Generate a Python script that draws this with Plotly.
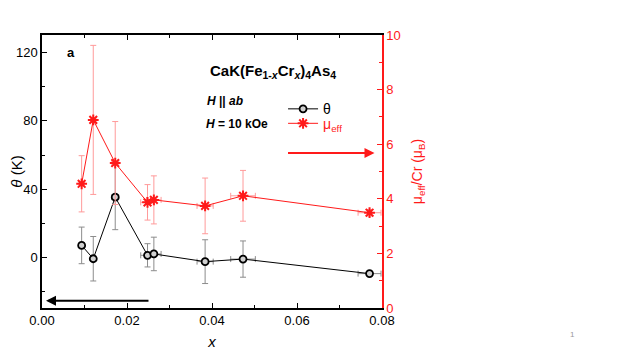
import plotly.graph_objects as go

# Data
x_vals = [0.00933, 0.01206, 0.01723, 0.02483, 0.02632, 0.03838, 0.0473, 0.07707]
x_err = [0.0006, 0.0006, 0.0008, 0.0016, 0.0017, 0.0019, 0.0029, 0.0027]
theta = [7.2, -0.6, 35.4, 1.4, 2.2, -2.3, -0.8, -9.3]
theta_err = [10.7, 13.0, 19.0, 6.8, 9.8, 12.8, 10.6, 0.8]
mu_eff = [4.55, 6.89, 5.31, 3.87, 3.96, 3.74, 4.11, 3.49]
mu_err = [1.03, 2.73, 1.52, 0.65, 0.88, 1.02, 0.93, 0.12]

FONT = "Arial, Liberation Sans, Helvetica, sans-serif"
RED = "#ff1a1a"

fig = go.Figure()

fig.add_trace(go.Scatter(
    x=x_vals, y=theta, name="θ", mode="lines+markers",
    line=dict(color="black", width=1),
    marker=dict(symbol="circle", size=7, color="#d0d0d0", line=dict(color="black", width=1.8)),
    error_y=dict(type="data", array=theta_err, color="#8c8c8c", thickness=1, width=3),
    error_x=dict(type="data", array=x_err, color="#8c8c8c", thickness=1, width=3),
    yaxis="y", legend="legend",
))

fig.add_trace(go.Scatter(
    x=x_vals, y=mu_eff, name="<span style='color:#ff1a1a'>μ<sub>eff</sub></span>", mode="lines+markers",
    line=dict(color=RED, width=1),
    marker=dict(symbol="asterisk-open", size=9, color=RED, line=dict(color=RED, width=2)),
    error_y=dict(type="data", array=mu_err, color="#ff9a9a", thickness=1, width=3),
    error_x=dict(type="data", array=x_err, color="#ff9a9a", thickness=1, width=3),
    yaxis="y2", legend="legend2",
))

leg_common = dict(xanchor="left", yanchor="middle", bgcolor="rgba(0,0,0,0)",
                  font=dict(size=14, family=FONT), itemwidth=30)

fig.update_layout(
    width=615, height=342,
    margin=dict(l=34, r=240.5, t=27, b=42, autoexpand=False),
    paper_bgcolor="white", plot_bgcolor="white",
    font=dict(family=FONT, size=12, color="black"),
    showlegend=True,
    legend=dict(x=0.709, y=0.728, **leg_common),
    legend2=dict(x=0.709, y=0.675, **leg_common),
    xaxis=dict(
        range=[0, 0.08], dtick=0.02, tick0=0, tickformat=".2f", automargin=False,
        showgrid=False, zeroline=False,
        showline=True, linecolor="black", linewidth=1.5, mirror="ticks",
        ticks="inside", ticklen=5, tickcolor="black", tickwidth=1,
        minor=dict(dtick=0.01, ticks="inside", ticklen=3, tickcolor="black"),
        title=dict(text="<i>x</i>", font=dict(size=15), standoff=10),
        tickfont=dict(size=13),
    ),
    yaxis=dict(
        range=[-29.4, 130.2], dtick=40, tick0=0, automargin=False,
        showgrid=False, zeroline=False,
        showline=True, linecolor="black", linewidth=1.5,
        ticks="inside", ticklen=5, tickcolor="black",
        minor=dict(dtick=20, ticks="inside", ticklen=3, tickcolor="black"),
        title=dict(text="<i>θ</i> (K)", font=dict(size=15), standoff=12),
        tickfont=dict(size=13),
    ),
    yaxis2=dict(
        range=[0, 10], dtick=2, tick0=0, overlaying="y", side="right", automargin=False,
        showgrid=False, zeroline=False,
        showline=True, linecolor=RED, linewidth=1.5,
        ticks="inside", ticklen=5, tickcolor=RED,
        minor=dict(dtick=1, ticks="inside", ticklen=3, tickcolor=RED),
        tickfont=dict(size=13, color=RED),
        title=dict(text="μ<sub>eff</sub>/Cr (μ<sub>B</sub>)", font=dict(size=14, color=RED), standoff=12),
    ),
)

annotations = [
    dict(x=0.085, y=0.935, xref="paper", yref="paper", text="<b>a</b>", showarrow=False,
         font=dict(size=13), xanchor="center", yanchor="middle"),
    dict(x=0.68, y=0.865, xref="paper", yref="paper",
         text="<b>CaK(Fe<sub>1-<i>x</i></sub>Cr<sub><i>x</i></sub>)<sub>4</sub>As<sub>4</sub></b>",
         showarrow=False, font=dict(size=15), xanchor="center", yanchor="middle"),
    dict(x=0.537, y=0.758, xref="paper", yref="paper", text="<b><i>H</i> || <i>ab</i></b>",
         showarrow=False, font=dict(size=12), xanchor="center", yanchor="middle"),
    dict(x=0.573, y=0.674, xref="paper", yref="paper", text="<b><i>H</i> = 10 kOe</b>",
         showarrow=False, font=dict(size=12), xanchor="center", yanchor="middle"),
    dict(x=0.00094, y=-25.1, xref="x", yref="y", ax=104, ay=0, text="",
         showarrow=True, arrowhead=2, arrowsize=1, arrowwidth=2, arrowcolor="black"),
    dict(x=0.07824, y=5.68, xref="x", yref="y2", ax=-88, ay=0, text="",
         showarrow=True, arrowhead=2, arrowsize=1, arrowwidth=2, arrowcolor=RED),
    dict(x=(573 - 42) / 340.5, y=(308 - 334) / 273.0, xref="paper", yref="paper",
         text="1", showarrow=False, font=dict(size=8, color="#999999"),
         xanchor="center", yanchor="middle"),
]
fig.update_layout(annotations=annotations)

fig.write_html("out.html")
